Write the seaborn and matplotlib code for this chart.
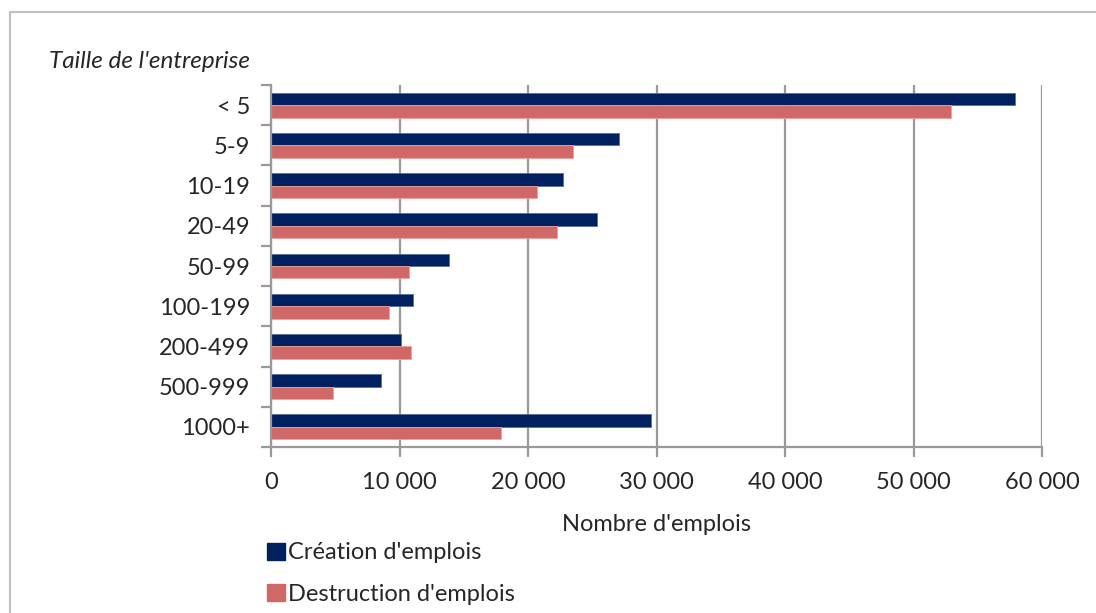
import numpy as np
import pandas as pd
import seaborn as sns
import matplotlib.pyplot as plt
from matplotlib.patches import Rectangle, Patch
from matplotlib.ticker import FuncFormatter, FixedLocator

# Data
tailles = ["< 5", "5-9", "10-19", "20-49", "50-99", "100-199", "200-499", "500-999", "1000+"]
creation = [57900, 27100, 22700, 25350, 13850, 11050, 10100, 8550, 29550]
destruction = [52900, 23500, 20700, 22250, 10750, 9200, 10900, 4800, 17900]
series = ["Création d'emplois", "Destruction d'emplois"]
colors = ["#002060", "#D06868"]
x_ticks = [0, 10000, 20000, 30000, 40000, 50000, 60000]

df = pd.DataFrame({
    "taille": tailles * 2,
    "valeur": creation + destruction,
    "serie": [series[0]] * len(tailles) + [series[1]] * len(tailles),
})

sns.set_style("white")
plt.rcParams["font.family"] = ["Lato", "DejaVu Sans"]
plt.rcParams["font.size"] = 17

fig = plt.figure(figsize=(10.96, 6.13), dpi=100)
ax = fig.add_axes([271 / 1096, 1 - 447 / 613, 771 / 1096, 362 / 613])

sns.barplot(data=df, y="taille", x="valeur", hue="serie", order=tailles,
            hue_order=series, palette=colors, orient="h", width=0.62,
            saturation=1, ax=ax, legend=False, linewidth=0.6, edgecolor="white")

# lighter edges like the original
for bar_c, c in zip(ax.containers, ["#5a6e9c", "#f0a0a0"]):
    for p in bar_c:
        p.set_edgecolor(c)

ax.set_xlim(0, 60000)
ax.set_ylim(len(tailles) - 0.5, -0.5)
ax.xaxis.set_major_locator(FixedLocator(x_ticks))
ax.xaxis.set_major_formatter(FuncFormatter(lambda v, p: f"{int(v):,}".replace(",", " ")))
ax.grid(axis="x", color="#999999", linewidth=1.6)
ax.set_axisbelow(True)

for s in ["top", "right"]:
    ax.spines[s].set_visible(False)
for s in ["left", "bottom"]:
    ax.spines[s].set_color("#999999")
    ax.spines[s].set_linewidth(1.6)

ax.tick_params(axis="x", which="major", direction="out", length=7, width=1.6,
               color="#999999", pad=11, labelsize=17, bottom=True)
ax.tick_params(axis="y", which="major", length=0, pad=15, labelsize=17)
ax.yaxis.set_minor_locator(FixedLocator(np.arange(-0.5, len(tailles), 1.0)))
ax.tick_params(axis="y", which="minor", direction="out", length=7, width=1.6,
               color="#999999", left=True)

ax.set_ylabel("")
ax.set_xlabel("Nombre d'emplois", fontsize=17, labelpad=15)

fig.text(250 / 1096, 1 - 62 / 613, "Taille de l'entreprise", ha="right",
         va="center", fontsize=17.5, style="italic")

# legend
handles = [Patch(facecolor=c, edgecolor=c) for c in colors]
fig.legend(handles, series, loc="upper left", bbox_to_anchor=(258 / 1096, 1 - 533 / 613),
           frameon=False, fontsize=17, handlelength=0.75, handleheight=0.75,
           handletextpad=0.1, labelspacing=0.85, borderaxespad=0)

# outer frame
fig.patches.append(Rectangle((10 / 1096, -0.05), 1.2, 1 - 12 / 613 + 0.05,
                             transform=fig.transFigure, fill=False,
                             edgecolor="#c0c0c0", linewidth=1.5))

fig.savefig("out.png", dpi=100)
